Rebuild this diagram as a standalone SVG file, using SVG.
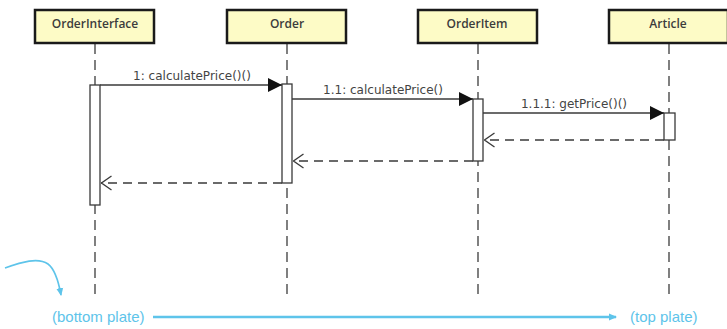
<svg xmlns="http://www.w3.org/2000/svg" width="727" height="329" viewBox="0 0 727 329">
  <style>
    .head { fill: #fdfbc6; stroke: #1a1a1a; stroke-width: 2.5; }
    .headtxt { font-family: "Open Sans", "DejaVu Sans", sans-serif; font-size: 12px; font-weight: 600; fill: #3c3c3c; text-anchor: middle; }
    .life { stroke: #4a4a4a; stroke-width: 1.4; stroke-dasharray: 10 6; fill: none; }
    .bar { fill: #ffffff; stroke: #3a3a3a; stroke-width: 1.3; }
    .call { stroke: #3a3a3a; stroke-width: 1.4; fill: none; marker-end: url(#solid); }
    .ret { stroke: #3a3a3a; stroke-width: 1.4; fill: none; stroke-dasharray: 9 6; marker-end: url(#open); }
    .lbl { font-family: "DejaVu Sans", sans-serif; font-size: 12px; fill: #444444; text-anchor: middle; }
    .note { font-family: "Liberation Sans", Arial, sans-serif; font-size: 15px; fill: #5ec4ea; }
    .blue { stroke: #5ec4ea; fill: none; }
  </style>
  <defs>
    <marker id="solid" viewBox="0 0 14 14" refX="14" refY="7" markerWidth="14" markerHeight="14" markerUnits="userSpaceOnUse" orient="auto">
      <path d="M0,0 L14,7 L0,14 Z" fill="#111111"/>
    </marker>
    <marker id="open" viewBox="0 0 12 16" refX="11.5" refY="8" markerWidth="12" markerHeight="16" markerUnits="userSpaceOnUse" orient="auto">
      <path d="M1,1 L11,8 L1,15" fill="none" stroke="#3a3a3a" stroke-width="1.3"/>
    </marker>
    <marker id="bluehead" viewBox="0 0 8 8" refX="7" refY="4" markerWidth="8" markerHeight="8" markerUnits="userSpaceOnUse" orient="auto">
      <path d="M0,0.5 L8,4 L0,7.5 Z" fill="#5ec4ea"/>
    </marker>
  </defs>

  <rect width="727" height="329" fill="#ffffff"/>

  <!-- lifelines -->
  <g id="lifelines">
    <line class="life" x1="95" y1="44" x2="95" y2="298"/>
    <line class="life" x1="287" y1="44" x2="287" y2="298"/>
    <line class="life" x1="478" y1="44" x2="478" y2="298"/>
    <line class="life" x1="669" y1="44" x2="669" y2="298"/>
  </g>

  <g id="orderinterface">
    <rect class="head" x="35" y="10" width="119" height="33"/>
    <text class="headtxt" x="95" y="28">OrderInterface</text>
    <rect class="bar" x="90" y="85" width="10" height="120"/>
  </g>
  <g id="order">
    <rect class="head" x="227" y="10" width="119" height="33"/>
    <text class="headtxt" x="287" y="28">Order</text>
    <rect class="bar" x="282" y="84" width="10" height="99"/>
  </g>
  <g id="orderitem">
    <rect class="head" x="418" y="10" width="119" height="33"/>
    <text class="headtxt" x="477" y="28">OrderItem</text>
    <rect class="bar" x="473" y="99" width="10" height="62"/>
  </g>
  <g id="article">
    <rect class="head" x="609" y="10" width="119" height="33"/>
    <text class="headtxt" x="668" y="28">Article</text>
    <rect class="bar" x="664" y="113" width="11" height="27"/>
  </g>

  <!-- messages -->
  <g id="connectors">
    <line class="call" x1="100" y1="85" x2="282" y2="85"/>
    <text class="lbl" x="192" y="80">1: calculatePrice()()</text>
    <line class="call" x1="292" y1="99" x2="473" y2="99"/>
    <text class="lbl" x="383" y="94">1.1: calculatePrice()</text>
    <line class="call" x1="483" y1="113" x2="664" y2="113"/>
    <text class="lbl" x="574" y="108">1.1.1: getPrice()()</text>

    <line class="ret" x1="664" y1="140" x2="484" y2="140"/>
    <line class="ret" x1="473" y1="161" x2="293" y2="161"/>
    <line class="ret" x1="282" y1="183" x2="101" y2="183"/>
  </g>

  <!-- plate annotation -->
  <g id="plates">
    <path class="blue" stroke-width="1.6" d="M5,268 C22,262 38,257 48,264 C56,270 59,284 61,295" marker-end="url(#bluehead)"/>
    <text class="note" x="52" y="322">(bottom plate)</text>
    <line class="blue" stroke-width="2.6" x1="153" y1="317" x2="616" y2="317" marker-end="url(#bluehead)"/>
    <text class="note" x="630" y="322">(top plate)</text>
  </g>
</svg>
